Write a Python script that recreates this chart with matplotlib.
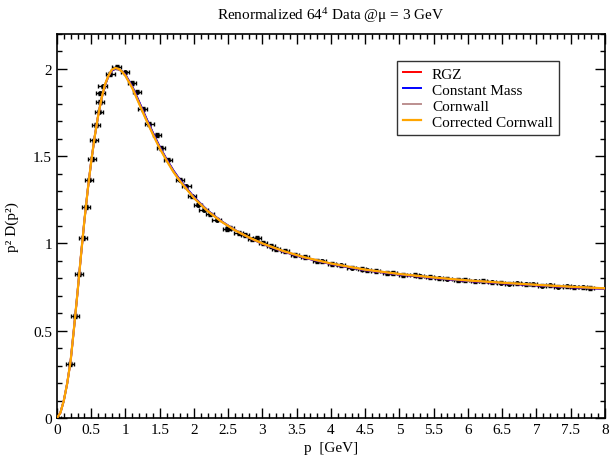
import matplotlib
matplotlib.use("Agg")
import matplotlib.pyplot as plt
from matplotlib.ticker import MultipleLocator, FuncFormatter

plt.rcParams['font.family'] = ['Liberation Serif', 'DejaVu Serif']
plt.rcParams['mathtext.fontset'] = 'custom'
plt.rcParams['mathtext.rm'] = 'Liberation Serif'
plt.rcParams['mathtext.it'] = 'Liberation Serif:italic'

# lattice data p [GeV], p^2 D(p^2)
data_p = [0.0, 0.19, 0.265, 0.325, 0.375, 0.425, 0.47, 0.51, 0.535, 0.565,
          0.61, 0.63, 0.635, 0.665, 0.78, 0.87, 0.995, 1.09, 1.17, 1.25,
          1.35, 1.455, 1.52, 1.625, 1.8, 1.89, 1.97, 2.06, 2.14, 2.23,
          2.33, 2.48, 2.53, 2.65, 2.75, 2.85, 2.92, 3.01, 3.12, 3.2,
          3.33, 3.47, 3.62, 3.8, 3.87, 4.01, 4.15, 4.3, 4.45, 4.52,
          4.65, 4.82, 4.9, 5.05, 5.22, 5.3, 5.45, 5.58, 5.7, 5.85,
          5.95, 6.1, 6.22, 6.35, 6.48, 6.6, 6.72, 6.85, 6.95, 7.08,
          7.2, 7.32, 7.45, 7.55, 7.68, 7.78]
data_v = [0.0, 0.31, 0.585, 0.825, 1.03, 1.21, 1.365, 1.485, 1.59, 1.68,
          1.755, 1.81, 1.86, 1.90, 1.97, 2.01, 1.98, 1.92, 1.87, 1.77,
          1.684, 1.62, 1.547, 1.48, 1.366, 1.327, 1.27, 1.223, 1.194, 1.166,
          1.137, 1.084, 1.09, 1.06, 1.048, 1.024, 1.032, 1.003, 0.986, 0.968,
          0.956, 0.934, 0.922, 0.900, 0.898, 0.882, 0.875, 0.861, 0.855, 0.846,
          0.843, 0.831, 0.832, 0.820, 0.818, 0.811, 0.808, 0.800, 0.799, 0.791,
          0.790, 0.783, 0.784, 0.777, 0.776, 0.770, 0.771, 0.765, 0.766, 0.759,
          0.760, 0.753, 0.754, 0.748, 0.749, 0.744]
data_perr = 0.06
data_verr = 0.01

# fitted curves
curve_p = [0, 0.05, 0.1, 0.15, 0.2, 0.25, 0.3, 0.35, 0.4, 0.45,
           0.5, 0.55, 0.6, 0.65, 0.7, 0.75, 0.8, 0.85, 0.9, 0.95,
           1.0, 1.1, 1.2, 1.3, 1.4, 1.5, 1.6, 1.7, 1.8, 2.0,
           2.2, 2.4, 2.6, 2.8, 3.0, 3.3, 3.6, 4.0, 4.5, 5.0,
           5.5, 6.0, 6.5, 7.0, 7.5, 8.0]
rgz = [0, 0.03, 0.10, 0.20, 0.33, 0.52, 0.72, 0.93, 1.13, 1.31,
       1.47, 1.61, 1.73, 1.83, 1.905, 1.957, 1.99, 2.0, 1.998, 1.986,
       1.965, 1.898, 1.81, 1.72, 1.634, 1.553, 1.482, 1.417, 1.361, 1.265,
       1.188, 1.127, 1.076, 1.034, 0.998, 0.954, 0.919, 0.882, 0.847, 0.822,
       0.802, 0.785, 0.772, 0.760, 0.749, 0.740]
constant_mass = [0, 0.03, 0.10, 0.20, 0.33, 0.52, 0.72, 0.93, 1.13, 1.31,
                 1.47, 1.61, 1.73, 1.83, 1.905, 1.957, 1.99, 2.0, 1.998, 1.987,
                 1.966, 1.899, 1.811, 1.721, 1.635, 1.554, 1.483, 1.418, 1.362, 1.266,
                 1.189, 1.128, 1.077, 1.034, 0.998, 0.954, 0.919, 0.882, 0.847, 0.822,
                 0.802, 0.785, 0.772, 0.760, 0.749, 0.740]
cornwall = [0, 0.03, 0.10, 0.20, 0.33, 0.52, 0.72, 0.93, 1.13, 1.31,
            1.47, 1.61, 1.73, 1.83, 1.91, 1.96, 1.995, 2.005, 2.0, 1.985,
            1.96, 1.891, 1.802, 1.712, 1.626, 1.546, 1.476, 1.411, 1.356, 1.261,
            1.186, 1.126, 1.076, 1.035, 1.0, 0.957, 0.922, 0.885, 0.85, 0.825,
            0.805, 0.788, 0.775, 0.763, 0.752, 0.743]
corrected_cornwall = [0, 0.03, 0.10, 0.20, 0.33, 0.52, 0.72, 0.93, 1.13, 1.31,
                      1.47, 1.61, 1.73, 1.83, 1.91, 1.96, 1.995, 2.005, 2.0, 1.985,
                      1.96, 1.89, 1.80, 1.71, 1.625, 1.545, 1.475, 1.41, 1.355, 1.26,
                      1.185, 1.125, 1.075, 1.035, 1.0, 0.957, 0.922, 0.885, 0.85, 0.825,
                      0.805, 0.788, 0.775, 0.763, 0.752, 0.743]

fig = plt.figure(figsize=(6.1, 4.6), dpi=100)
ax = fig.add_axes([0.0934, 0.0891, 0.8984, 0.8348])

ax.errorbar(data_p, data_v, xerr=data_perr, yerr=data_verr, fmt='o', color='black',
            markersize=2.5, elinewidth=1, capsize=1.5, capthick=1, zorder=2)

ax.plot(curve_p, rgz, color='#ff0000', lw=1.4, label='RGZ', zorder=3)
ax.plot(curve_p, constant_mass, color='#0000ff', lw=1.4, label='Constant Mass', zorder=3)
ax.plot(curve_p, cornwall, color='#bc8f8f', lw=1.4, label='Cornwall', zorder=3)
ax.plot(curve_p, corrected_cornwall, color='#ffa500', lw=1.6, label='Corrected Cornwall', zorder=4)

ax.set_xlim(0, 8)
ax.set_ylim(0, 2.2)
ax.xaxis.set_major_locator(MultipleLocator(0.5))
ax.xaxis.set_minor_locator(MultipleLocator(0.1))
ax.yaxis.set_major_locator(MultipleLocator(0.5))
ax.yaxis.set_minor_locator(MultipleLocator(0.1))
fmt = FuncFormatter(lambda v, pos: '%g' % v)
ax.xaxis.set_major_formatter(fmt)
ax.yaxis.set_major_formatter(fmt)
ax.tick_params(which='both', direction='in', top=True, right=True, labelsize=11, width=1)
ax.tick_params(which='major', length=7)
ax.tick_params(which='minor', length=3.5)
for s in ax.spines.values():
    s.set_linewidth(1.2)

ax.set_xlabel('p  [GeV]', fontsize=11, labelpad=4)
ax.set_ylabel('p² D(p²)', fontsize=11, labelpad=10)
ax.set_title('Renormalized 64$^4$ Data @μ = 3 GeV', fontsize=11, pad=11)

leg = ax.legend(loc='upper left', bbox_to_anchor=(0.62, 0.93), borderaxespad=0,
                fontsize=11, frameon=True, fancybox=False, edgecolor='black',
                handlelength=1.2, borderpad=0.4, labelspacing=0.15, handletextpad=0.7)
leg.get_frame().set_linewidth(1)

fig.savefig('out.png', dpi=100)
